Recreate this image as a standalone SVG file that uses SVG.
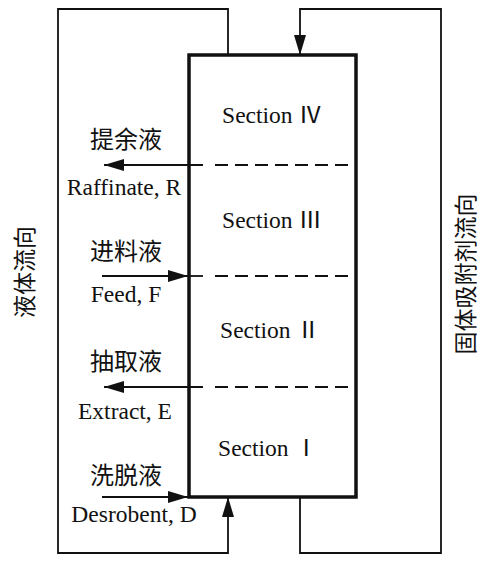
<svg xmlns="http://www.w3.org/2000/svg" width="486" height="562" viewBox="0 0 486 562">
<style>
.t{font-family:"Liberation Serif","Noto Sans CJK SC",serif;font-size:23.5px;fill:#111}
.c{font-family:"Noto Sans CJK SC",sans-serif;font-size:24px;fill:#111}
.v{font-family:"Noto Sans CJK SC",sans-serif;font-size:23px;fill:#111}
.ln{fill:none;stroke:#111;stroke-width:1.8}
.ds{fill:none;stroke:#111;stroke-width:2;stroke-dasharray:13 7}
</style>
<defs>
<marker id="ah" markerWidth="20" markerHeight="12" refX="20" refY="6" orient="auto" markerUnits="userSpaceOnUse">
<path d="M0,0 L20,6 L0,12 Z" fill="#111"/>
</marker>
</defs>
<g id="connectors">
<path class="ln" d="M228,55 V9 H58 V553 H228 V497" marker-end="url(#ah)"/>
<path class="ln" d="M300,497 V553 H441 V9 H300 V55" marker-end="url(#ah)"/>
<line class="ln" x1="203" y1="165" x2="104" y2="165" marker-end="url(#ah)"/>
<line class="ln" x1="102" y1="276" x2="188" y2="276" marker-end="url(#ah)"/>
<line class="ln" x1="188" y1="276" x2="203" y2="276"/>
<line class="ln" x1="203" y1="387" x2="104" y2="387" marker-end="url(#ah)"/>
<line class="ln" x1="102" y1="497" x2="188" y2="497" marker-end="url(#ah)"/>
<line class="ds" x1="215" y1="165" x2="350" y2="165"/>
<line class="ds" x1="215" y1="276" x2="350" y2="276"/>
<line class="ds" x1="215" y1="387" x2="350" y2="387"/>
</g>
<g id="column">
<rect x="189" y="55" width="167" height="442" fill="none" stroke="#111" stroke-width="3.5"/>
</g>
<g id="section4"><text class="t" x="272" y="123" text-anchor="middle">Section Ⅳ</text></g>
<g id="section3"><text class="t" x="272" y="228" text-anchor="middle">Section Ⅲ</text></g>
<g id="section2"><text class="t" x="270" y="338" text-anchor="middle">Section Ⅱ</text></g>
<g id="section1"><text class="t" x="268" y="456" text-anchor="middle">Section Ⅰ</text></g>
<g id="raffinate">
<text class="c" x="126" y="148" text-anchor="middle">提余液</text>
<text class="t" x="124" y="195" text-anchor="middle">Raffinate, R</text>
</g>
<g id="feed">
<text class="c" x="126" y="260" text-anchor="middle">进料液</text>
<text class="t" x="126" y="302" text-anchor="middle">Feed, F</text>
</g>
<g id="extract">
<text class="c" x="126" y="370" text-anchor="middle">抽取液</text>
<text class="t" x="125" y="419" text-anchor="middle">Extract, E</text>
</g>
<g id="desorbent">
<text class="c" x="126" y="484" text-anchor="middle">洗脱液</text>
<text class="t" x="134" y="522" text-anchor="middle">Desrobent, D</text>
</g>
<g id="liquid-flow">
<text class="v" transform="translate(23,272) rotate(-90)" text-anchor="middle" dominant-baseline="central">液体流向</text>
</g>
<g id="solid-flow">
<text class="v" transform="translate(464,274) rotate(-90)" text-anchor="middle" dominant-baseline="central">固体吸附剂流向</text>
</g>
</svg>
